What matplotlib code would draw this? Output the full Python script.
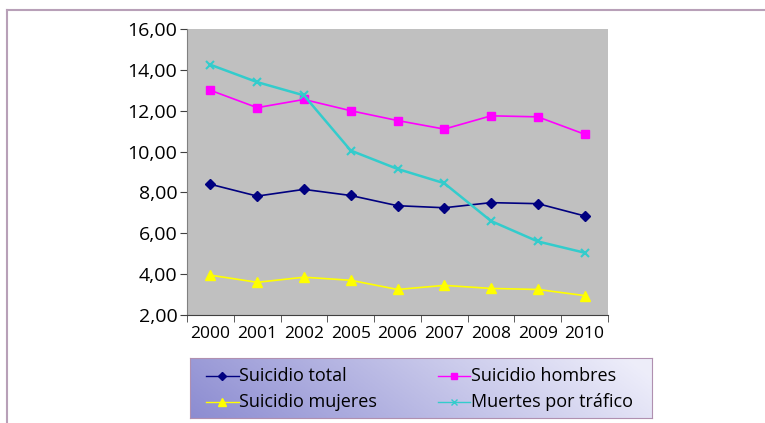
import numpy as np
import matplotlib.pyplot as plt
from matplotlib.lines import Line2D

plt.rcParams['font.family'] = ['Open Sans', 'DejaVu Sans']

years = ['2000', '2001', '2002', '2005', '2006', '2007', '2008', '2009', '2010']
suicidio_total = [8.40, 7.82, 8.15, 7.85, 7.35, 7.25, 7.50, 7.45, 6.85]
suicidio_hombres = [13.00, 12.15, 12.55, 12.00, 11.52, 11.10, 11.75, 11.70, 10.85]
suicidio_mujeres = [3.95, 3.60, 3.85, 3.70, 3.25, 3.45, 3.30, 3.25, 2.95]
muertes_trafico = [14.25, 13.40, 12.75, 10.05, 9.15, 8.45, 6.60, 5.60, 5.05]
yticks = [2, 4, 6, 8, 10, 12, 14, 16]

fig = plt.figure(figsize=(7.65, 4.23), dpi=100)

# outer frame (top and left lines)
fig.add_artist(Line2D([7/765, 7/765], [0, 1 - 10/423], color='#b8a0b8', lw=1.5))
fig.add_artist(Line2D([7/765, 1], [1 - 10/423, 1 - 10/423], color='#b8a0b8', lw=1.5))

ax = fig.add_axes([187/765, 1 - 315/423, (608 - 187)/765, (315 - 29)/423])
ax.set_facecolor('#c0c0c0')
x = np.arange(len(years))

ax.plot(x, suicidio_total, color='#000080', marker='D', ms=5, lw=1.2)
ax.plot(x, suicidio_hombres, color='#ff00ff', marker='s', ms=6, lw=1.2)
ax.plot(x, suicidio_mujeres, color='#ffff00', marker='^', ms=7, lw=1.2)
ax.plot(x, muertes_trafico, color='#33cccc', marker='x', ms=6, mew=1.5, lw=1.8)

ax.set_xlim(-0.5, len(years) - 0.5)
ax.set_ylim(2, 16)
ax.set_yticks(yticks)
ax.set_yticklabels(['%d,00' % v for v in yticks], fontsize=14)
ax.set_xticks(x)
ax.set_xticklabels(years, fontsize=12.5)
ax.set_xticks(np.arange(len(years) + 1) - 0.5, minor=True)
ax.tick_params(axis='x', which='major', length=0, pad=8)
ax.tick_params(axis='x', which='minor', length=5, direction='out', color='#404040')
ax.tick_params(axis='y', length=5, color='#404040', pad=2)
for s in ['top', 'right']:
    ax.spines[s].set_visible(False)
ax.spines['left'].set_color('#808080')
ax.spines['bottom'].set_color('#404040')

# legend box with gradient background
lax = fig.add_axes([190/765, 1 - 418/423, (652 - 190)/765, (418 - 358)/423])
gx = np.linspace(0, 1, 200)
gy = np.linspace(0, 1, 40)
GX, GY = np.meshgrid(gx, gy)
c0 = np.array([0.55, 0.55, 0.82])
c1 = np.array([0.93, 0.93, 0.98])
t = np.clip(GX * 0.9 + (1 - GY) * 0.15, 0, 1)[..., None]
img = c0 * (1 - t) + c1 * t
lax.imshow(img, extent=[0, 1, 0, 1], aspect='auto', origin='upper')
lax.set_xlim(0, 1)
lax.set_ylim(0, 1)
lax.set_xticks([])
lax.set_yticks([])
for s in lax.spines.values():
    s.set_color('#b090b0')

entries = [
    (0.035, 0.70, '#000080', 'D', 4, 'Suicidio total'),
    (0.537, 0.70, '#ff00ff', 's', 5, 'Suicidio hombres'),
    (0.035, 0.26, '#ffff00', '^', 6, 'Suicidio mujeres'),
    (0.537, 0.26, '#33cccc', 'x', 5, 'Muertes por tráfico'),
]
for ex, ey, col, mk, ms, lab in entries:
    lax.plot([ex, ex + 0.07], [ey, ey], color=col, lw=1)
    lax.plot([ex + 0.035], [ey], color=col, marker=mk, ms=ms)
    lax.text(ex + 0.072, ey, lab, fontsize=13, va='center', ha='left')

fig.savefig('out.png', dpi=100, facecolor='white')
